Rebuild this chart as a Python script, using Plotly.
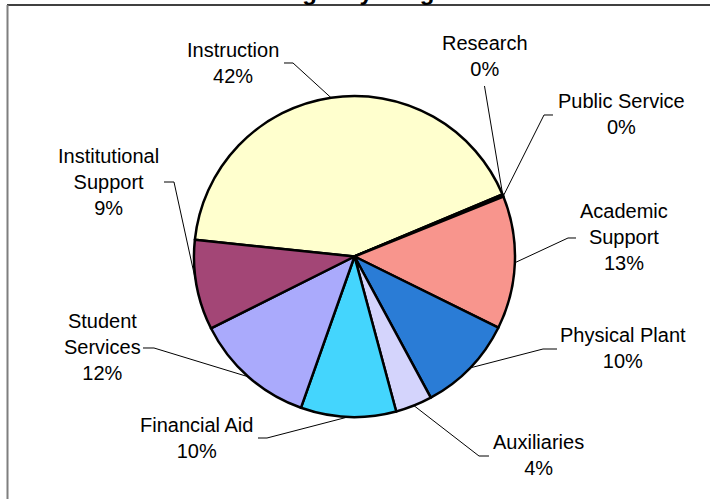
import math
import plotly.graph_objects as go

# Budget shares by program, in percent of the total
categories = [
    "Instruction", "Research", "Public Service", "Academic Support",
    "Physical Plant", "Auxiliaries", "Financial Aid", "Student Services",
    "Institutional Support",
]
shares = [42.0, 0.15, 0.1, 13.4, 9.8, 3.7, 9.6, 12.2, 9.05]
colors = [
    "#FFFFCE", "#CCFFFF", "#660066", "#F8958D", "#2A7CD6",
    "#D4D4FC", "#44D5FD", "#AAAAFC", "#A34676",
]
wrapped = {
    "Institutional Support": "Institutional<br>Support",
    "Academic Support": "Academic<br>Support",
    "Student Services": "Student<br>Services",
}

W, H = 710, 499
CX, CY, R = 354.5, 256.5, 160.5
START = 276.0  # angle (clockwise from 12 o'clock) where the first slice begins

# label centres and leader-line start/elbow points, in pixels
label_pos = {
    "Instruction": (233, 63),
    "Research": (485, 56),
    "Public Service": (621, 114),
    "Academic Support": (624, 237),
    "Physical Plant": (623, 348),
    "Auxiliaries": (538, 455),
    "Financial Aid": (196, 438),
    "Student Services": (102, 347),
    "Institutional Support": (108, 182),
}
leader_start = {
    "Instruction": [(284, 63), (293, 63)],
    "Research": [(484.5, 86)],
    "Public Service": [(553, 115), (544, 115)],
    "Academic Support": [(576, 238), (568, 238)],
    "Physical Plant": [(557, 349), (543, 349)],
    "Auxiliaries": [(489, 456), (479, 456)],
    "Financial Aid": [(258, 438), (267, 438)],
    "Student Services": [(143, 348), (154, 348)],
    "Institutional Support": [(164, 182), (174, 182)],
}


def px(x):
    return x / W


def py(y):
    return 1 - y / H


fig = go.Figure(
    go.Pie(
        labels=categories,
        values=shares,
        sort=False,
        direction="clockwise",
        rotation=START,
        marker=dict(colors=colors, line=dict(color="black", width=2.5)),
        textinfo="none",
        hoverinfo="label+percent",
        showlegend=False,
        domain=dict(
            x=[px(CX - R), px(CX + R)],
            y=[py(CY + R), py(CY - R)],
        ),
    )
)

total = sum(shares)
annotations = []
shapes = []
cum = 0.0
for name, v in zip(categories, shares):
    mid = START + (cum + v / 2) / total * 360
    cum += v
    a = math.radians(mid)
    ex = CX + R * math.sin(a)
    ey = CY - R * math.cos(a)
    pts = leader_start[name] + [(ex, ey)]
    path = "M " + " L ".join(f"{px(x):.5f},{py(y):.5f}" for x, y in pts)
    shapes.append(dict(type="path", xref="paper", yref="paper", path=path,
                       line=dict(color="black", width=1)))
    tx, ty = label_pos[name]
    pct = round(v / total * 100)
    annotations.append(dict(
        x=px(tx), y=py(ty), xref="paper", yref="paper",
        xanchor="center", yanchor="middle", showarrow=False,
        text=f"{wrapped.get(name, name)}<br>{pct}%",
        font=dict(family="Arial, Liberation Sans, sans-serif", size=20, color="black"),
    ))

# chart-area frame (top and left edges)
shapes.append(dict(type="line", xref="paper", yref="paper",
                   x0=px(7), x1=1, y0=py(5), y1=py(5),
                   line=dict(color="black", width=1.5)))
shapes.append(dict(type="line", xref="paper", yref="paper",
                   x0=px(7.5), x1=px(7.5), y0=py(5), y1=0,
                   line=dict(color="#7f7f7f", width=2)))

fig.update_layout(
    width=W, height=H,
    margin=dict(l=0, r=0, t=0, b=0),
    paper_bgcolor="white",
    plot_bgcolor="white",
    title=dict(
        text="<b>Budget by Program</b>",
        x=367 / W, xanchor="center", xref="container",
        y=1, yanchor="bottom", yref="container",
        pad=dict(b=0),
        font=dict(family="Arial, Liberation Sans, sans-serif", size=24, color="black"),
    ),
    annotations=annotations,
    shapes=shapes,
)

fig.write_html("out.html")
